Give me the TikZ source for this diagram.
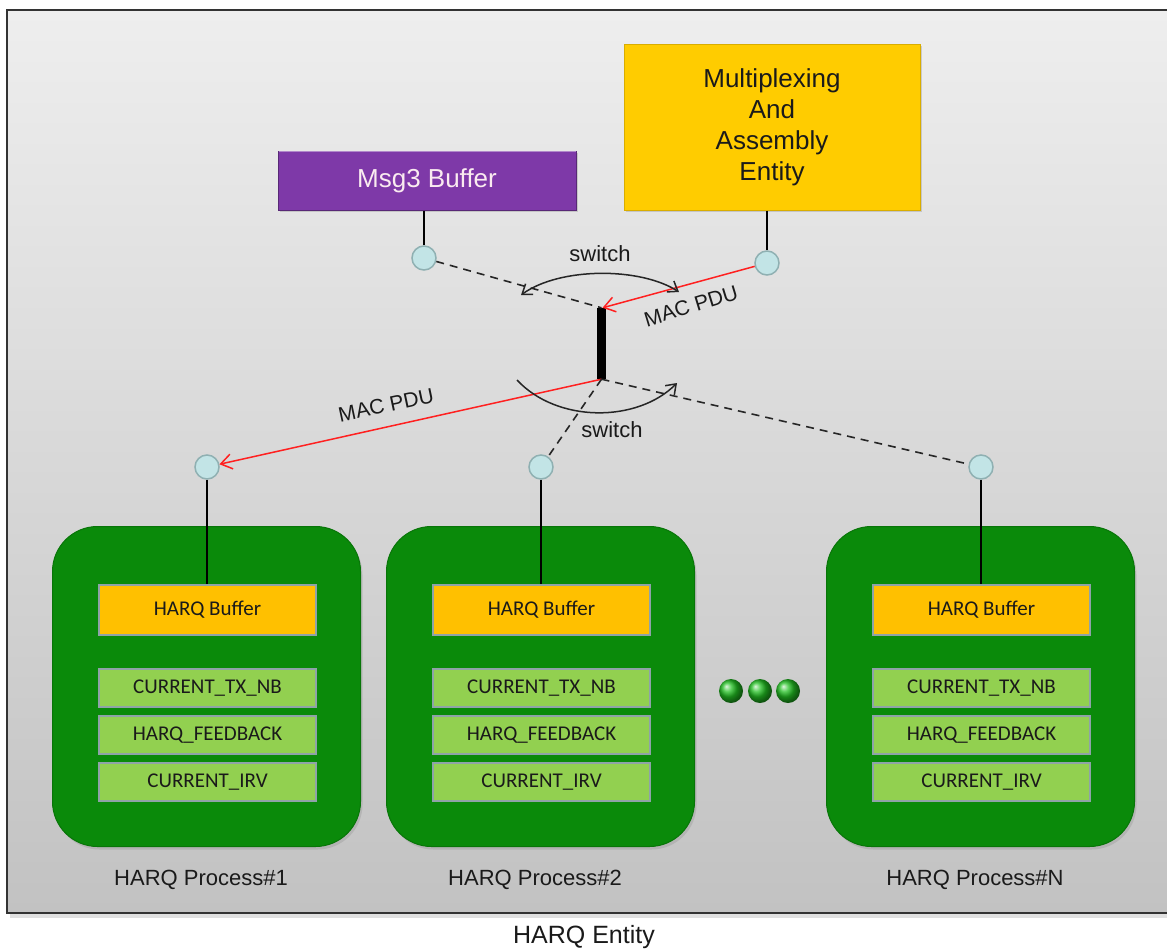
\documentclass[tikz,border=0pt]{standalone}
\usepackage{fontspec}
\setmainfont{Liberation Sans}
\newfontfamily\calib{Carlito}
\usetikzlibrary{arrows.meta,shadows}
\definecolor{bgtop}{HTML}{EEEEEE}
\definecolor{bgbot}{HTML}{C2C2C2}
\definecolor{framec}{HTML}{333333}
\definecolor{hgreen}{HTML}{0A8A0A}
\definecolor{dotgreen}{HTML}{22C022}
\definecolor{hyellow}{HTML}{FFC000}
\definecolor{myellow}{HTML}{FFCC00}
\definecolor{vgreen}{HTML}{92D050}
\definecolor{innerb}{HTML}{8FA3A8}
\definecolor{purp}{HTML}{7E39A8}
\definecolor{portfill}{HTML}{C2E4E6}
\definecolor{portdraw}{HTML}{8FB0B2}
\definecolor{txt}{HTML}{1A1A1A}
\definecolor{redl}{HTML}{FF2020}
\tikzset{
  procbox/.style={fill=hgreen, draw=hgreen!85!black, line width=1pt, rounded corners=45pt,
    minimum width=308pt, minimum height=320pt, inner sep=0pt,
    drop shadow={opacity=0.25, shadow xshift=2pt, shadow yshift=-3pt}},
  bufbox/.style={fill=hyellow, draw=innerb, line width=2pt, minimum width=217pt,
    minimum height=50pt, inner sep=0pt, font=\calib\fontsize{21}{25}\selectfont, text=txt},
  varbox/.style={fill=vgreen, draw=innerb, line width=2pt, minimum width=217pt,
    minimum height=38pt, inner sep=0pt, font=\calib\fontsize{21}{25}\selectfont, text=txt},
  port/.style={circle, fill=portfill, draw=portdraw, line width=1.5pt, minimum size=24pt, inner sep=0pt},
  wire/.style={draw=black, line width=1.6pt},
  dashline/.style={draw=black!85, line width=1.6pt, dash pattern=on 8pt off 6pt},
  redarrow/.style={draw=redl, line width=1.5pt, -{Straight Barb[length=11pt,width=15pt]}},
  swarc/.style={draw=black!85, line width=1.5pt},
  lbl/.style={font=\fontsize{22}{26}\selectfont, text=txt},
  ball/.style={circle, shading=ball, ball color=dotgreen, minimum size=24pt, inner sep=0pt}
}
\begin{document}
\begin{tikzpicture}[x=1pt,y=-1pt]
\useasboundingbox (0,0) rectangle (1167,951);
\fill[white] (0,0) rectangle (1167,951);
% outer frame
\fill[black, opacity=0.12] (10,14) rectangle (1185,918);
\draw[line width=2.5pt, draw=framec, top color=bgtop, bottom color=bgbot] (7,10) rectangle (1185,913);

% top boxes
\node[fill=purp, draw=purp!70!black, line width=1pt, minimum width=298pt, minimum height=59pt,
  inner sep=0pt, text=white!92!purple, font=\fontsize{26}{30}\selectfont,
  drop shadow={opacity=0.3, shadow xshift=2pt, shadow yshift=-2pt}] (msg) at (427,180.5) {Msg3 Buffer};
\draw[purp!60!white, line width=1.5pt] ([xshift=1pt,yshift=-1pt]msg.north west) -- ([xshift=-1pt,yshift=-1pt]msg.north east);
\node[fill=myellow, draw=myellow!85!black, line width=1pt, minimum width=296pt, minimum height=166pt,
  inner sep=0pt, align=center, text=txt, font=\fontsize{26}{31}\selectfont,
  drop shadow={opacity=0.3, shadow xshift=2pt, shadow yshift=-2pt}] (mux) at (772,127)
  {Multiplexing\\And\\Assembly\\Entity};

% ports at top
\node[port] (mport) at (424,258) {};
\node[port] (aport) at (767,263) {};
\draw[wire] (msg.south -| mport) -- (mport.north);
\draw[wire] (mux.south -| aport) -- (aport.north);

% switch bar
\node[fill=black, minimum width=9pt, minimum height=71pt, inner sep=0pt] (bar) at (601.5,343.5) {};

% process boxes
\foreach \L/\k/\n in {52/1/p1,386/2/p2,826/N/p3}{
  \node[procbox, anchor=north west] (\n box) at (\L,526) {};
  \node[bufbox, anchor=north west] (\n buf) at (\L+46,584) {HARQ Buffer};
  \node[varbox, anchor=north west] (\n tx) at (\L+46,668) {CURRENT\_TX\_NB};
  \node[varbox, anchor=north west] (\n fb) at (\L+46,715) {HARQ\_FEEDBACK};
  \node[varbox, anchor=north west] (\n irv) at (\L+46,762) {CURRENT\_IRV};
  \node[lbl] (\n lab) at (\L+149,880) {HARQ Process\#\k};
  \node[port] (\n port) at (\L+155,467) {};
  \draw[wire] (\n port.south) -- (\n port.south |- \n buf.north);
}

% connectors through the switch
\draw[dashline] (mport) -- (bar.north);
\draw[redarrow] (aport) -- ([xshift=1pt]bar.north);
\draw[redarrow] (bar.south) -- (p1port);
\draw[dashline] (bar.south) -- (p2port);
\draw[dashline] (bar.south) -- (p3port);

% switch arcs
\coordinate (s1l) at (521,295);
\coordinate (s1r) at (679,292);
\coordinate (s2l) at (517,380);
\coordinate (s2r) at (677,383);
\draw[swarc, {Straight Barb[length=9pt,width=13pt]}-{Straight Barb[length=9pt,width=13pt]}]
  (s1l) .. controls (560,267) and (640,267) .. (s1r);
\draw[swarc, -{Straight Barb[length=9pt,width=13pt]}]
  (s2l) .. controls (557,423) and (637,423) .. (s2r);

% labels
\node[lbl] (sw1) at (600,254) {switch};
\node[lbl] (sw2) at (612,430) {switch};
\node[lbl, font=\fontsize{21}{25}\selectfont, rotate=17] (mac1) at (691,306) {MAC PDU};
\node[lbl, font=\fontsize{21}{25}\selectfont, rotate=12] (mac2) at (386,405) {MAC PDU};

% ellipsis balls
\node[ball] (d1) at (731,691) {};
\node[ball] (d2) at (760,691) {};
\node[ball] (d3) at (788,691) {};

\node[font=\fontsize{25}{29}\selectfont, text=txt] (ent) at (584,937) {HARQ Entity};
\end{tikzpicture}
\end{document}
